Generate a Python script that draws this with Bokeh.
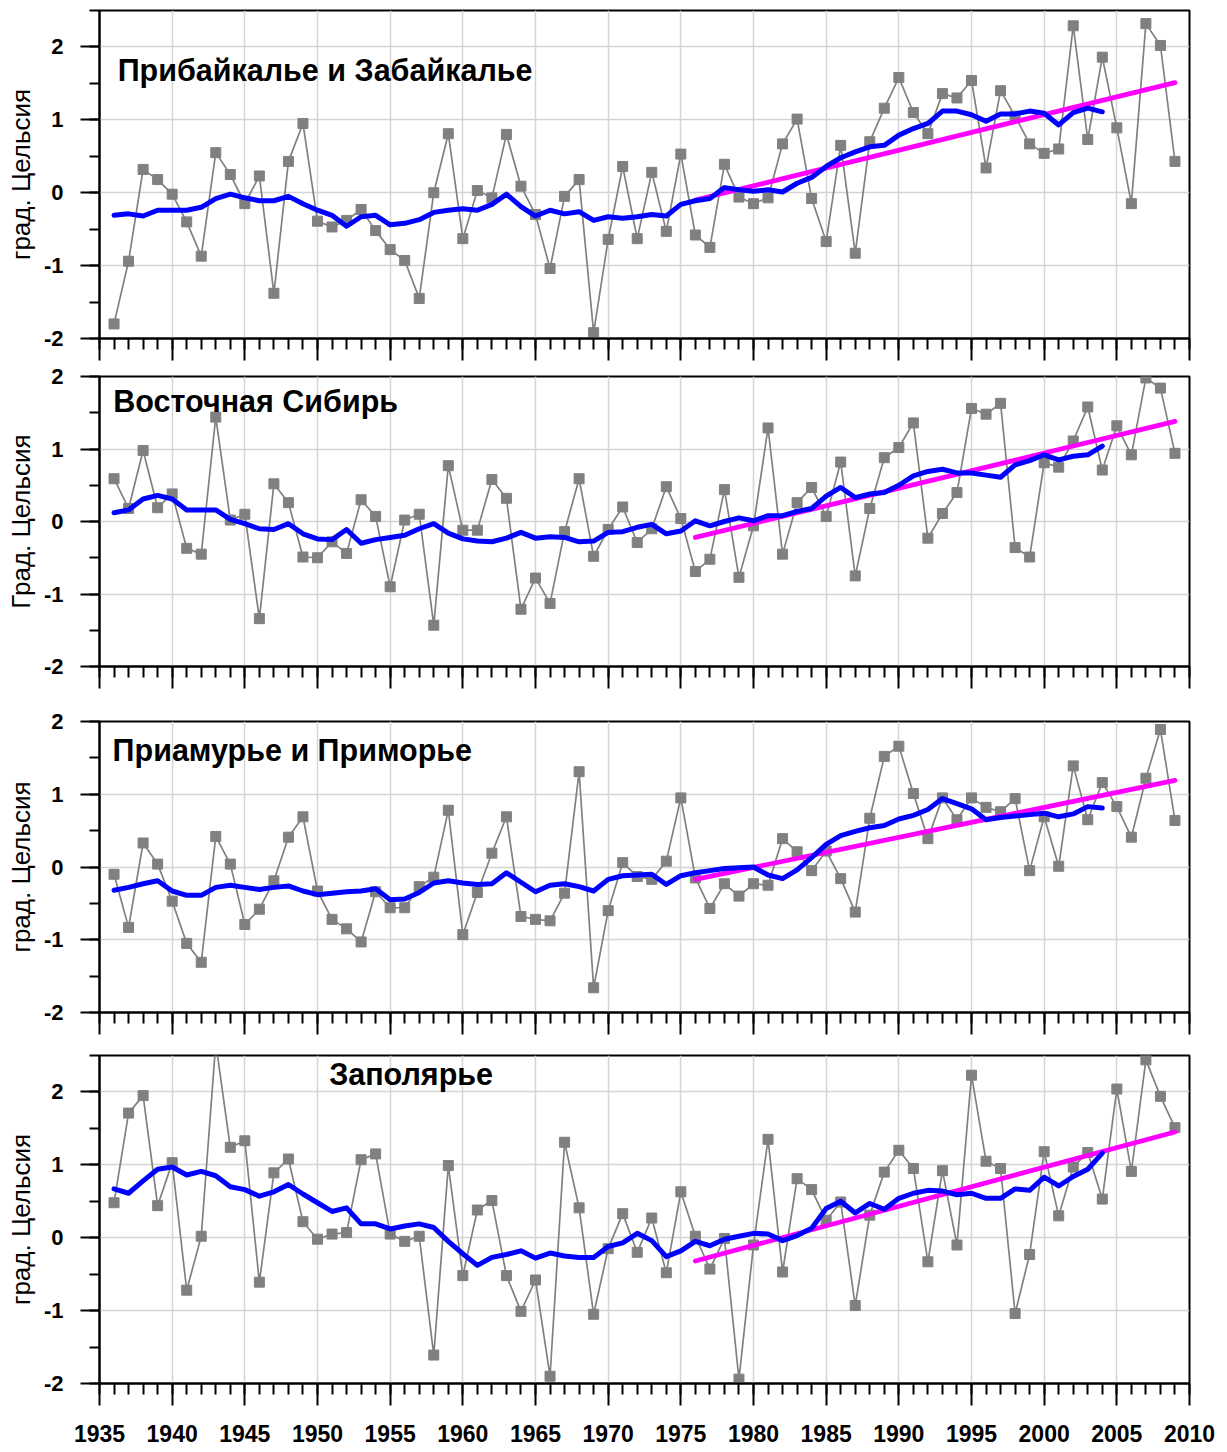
from bokeh.plotting import figure
from bokeh.layouts import column
from bokeh.models import Range1d, FixedTicker, Label
from bokeh.embed import file_html
from bokeh.resources import INLINE

years = list(range(1936, 2010))
ma_years = list(range(1936, 2005))
trend_years = [1976, 2009]
x_ticks = list(range(1935, 2011, 5))
x_minor = list(range(1935, 2011))
y_ticks = [-2, -1, 0, 1, 2]

titles = ["Прибайкалье и Забайкалье", "Восточная Сибирь", "Приамурье и Приморье", "Заполярье"]
ylabels = ["град. Цельсия", "Град. Цельсия", "град. Цельсия", "град. Цельсия"]

p1_anom = [-1.80, -0.94, 0.32, 0.18, -0.02, -0.40, -0.87, 0.55, 0.25, -0.15,
           0.23, -1.38, 0.43, 0.95, -0.39, -0.47, -0.38, -0.23, -0.52, -0.78,
           -0.93, -1.45, 0.00, 0.81, -0.63, 0.03, -0.07, 0.80, 0.09, -0.30,
           -1.04, -0.05, 0.18, -1.92, -0.64, 0.36, -0.63, 0.28, -0.53, 0.53,
           -0.58, -0.75, 0.39, -0.06, -0.15, -0.07, 0.67, 1.01, -0.08, -0.67,
           0.65, -0.83, 0.70, 1.16, 1.58, 1.10, 0.81, 1.36, 1.30, 1.54,
           0.34, 1.40, 1.05, 0.67, 0.54, 0.60, 2.29, 0.73, 1.86, 0.89,
           -0.15, 2.32, 2.02, 0.43]
p1_ma = [-0.31, -0.29, -0.32, -0.24, -0.24, -0.24, -0.20, -0.08, -0.02, -0.07,
         -0.11, -0.11, -0.05, -0.15, -0.24, -0.31, -0.46, -0.33, -0.31, -0.44,
         -0.42, -0.37, -0.27, -0.24, -0.22, -0.24, -0.16, -0.02, -0.19, -0.32,
         -0.24, -0.29, -0.26, -0.38, -0.33, -0.35, -0.33, -0.30, -0.32, -0.16,
         -0.11, -0.08, 0.07, 0.04, 0.02, 0.04, 0.01, 0.13, 0.21, 0.36,
         0.48, 0.56, 0.63, 0.65, 0.79, 0.88, 0.95, 1.12, 1.12, 1.07,
         0.98, 1.08, 1.08, 1.12, 1.09, 0.93, 1.10, 1.16, 1.11]
p1_trend = [-0.10, 1.51]

p2_anom = [0.59, 0.18, 0.98, 0.19, 0.38, -0.37, -0.45, 1.44, 0.02, 0.10,
           -1.34, 0.52, 0.26, -0.49, -0.50, -0.28, -0.44, 0.30, 0.07, -0.90,
           0.02, 0.10, -1.43, 0.77, -0.12, -0.12, 0.58, 0.32, -1.21, -0.78,
           -1.13, -0.14, 0.59, -0.48, -0.11, 0.20, -0.29, -0.10, 0.48, 0.04,
           -0.69, -0.52, 0.44, -0.77, -0.06, 1.29, -0.45, 0.26, 0.47, 0.07,
           0.82, -0.75, 0.18, 0.88, 1.02, 1.36, -0.23, 0.11, 0.40, 1.56,
           1.48, 1.63, -0.36, -0.49, 0.81, 0.75, 1.11, 1.58, 0.71, 1.32,
           0.92, 1.98, 1.84, 0.94]
p2_ma = [0.12, 0.16, 0.31, 0.36, 0.31, 0.16, 0.16, 0.16, 0.03, -0.03,
         -0.10, -0.11, -0.03, -0.17, -0.24, -0.25, -0.11, -0.30, -0.25, -0.22,
         -0.19, -0.10, -0.03, -0.16, -0.24, -0.27, -0.28, -0.23, -0.15, -0.23,
         -0.21, -0.22, -0.28, -0.27, -0.15, -0.14, -0.08, -0.04, -0.17, -0.13,
         0.01, -0.06, 0.00, 0.05, 0.01, 0.08, 0.08, 0.14, 0.18, 0.35,
         0.47, 0.33, 0.38, 0.40, 0.50, 0.63, 0.69, 0.72, 0.67, 0.67,
         0.64, 0.61, 0.78, 0.84, 0.92, 0.85, 0.90, 0.92, 1.04]
p2_trend = [-0.22, 1.38]

p3_anom = [-0.10, -0.83, 0.33, 0.04, -0.47, -1.05, -1.31, 0.42, 0.04, -0.79,
           -0.58, -0.19, 0.41, 0.69, -0.33, -0.72, -0.85, -1.03, -0.34, -0.56,
           -0.56, -0.27, -0.14, 0.78, -0.93, -0.35, 0.19, 0.69, -0.68, -0.72,
           -0.74, -0.36, 1.31, -1.66, -0.60, 0.06, -0.13, -0.17, 0.08, 0.95,
           -0.15, -0.57, -0.23, -0.40, -0.23, -0.25, 0.39, 0.21, -0.05, 0.22,
           -0.16, -0.62, 0.67, 1.52, 1.66, 1.01, 0.39, 0.95, 0.65, 0.95,
           0.82, 0.76, 0.94, -0.05, 0.69, 0.01, 1.39, 0.65, 1.16, 0.83,
           0.41, 1.22, 1.89, 0.64]
p3_ma = [-0.32, -0.28, -0.23, -0.19, -0.33, -0.39, -0.39, -0.28, -0.25, -0.28,
         -0.31, -0.28, -0.26, -0.33, -0.38, -0.36, -0.34, -0.33, -0.30, -0.45,
         -0.44, -0.35, -0.22, -0.19, -0.22, -0.24, -0.23, -0.08, -0.21, -0.34,
         -0.25, -0.23, -0.27, -0.33, -0.17, -0.12, -0.11, -0.10, -0.24, -0.12,
         -0.08, -0.05, -0.02, -0.01, 0.00, -0.11, -0.16, -0.04, 0.13, 0.31,
         0.43, 0.49, 0.54, 0.57, 0.66, 0.71, 0.79, 0.94, 0.87, 0.80,
         0.65, 0.68, 0.70, 0.72, 0.74, 0.69, 0.73, 0.83, 0.81]
p3_trend = [-0.17, 1.19]

p4_anom = [0.48, 1.71, 1.95, 0.44, 1.03, -0.72, 0.02, 2.67, 1.24, 1.33,
           -0.61, 0.89, 1.08, 0.22, -0.02, 0.05, 0.07, 1.07, 1.15, 0.05,
           -0.05, 0.02, -1.61, 0.99, -0.52, 0.38, 0.51, -0.52, -1.01, -0.58,
           -1.90, 1.31, 0.41, -1.05, -0.15, 0.33, -0.20, 0.27, -0.48, 0.63,
           0.02, -0.43, -0.01, -1.94, -0.10, 1.35, -0.47, 0.81, 0.66, 0.24,
           0.49, -0.93, 0.31, 0.90, 1.20, 0.95, -0.33, 0.92, -0.10, 2.23,
           1.05, 0.95, -1.04, -0.23, 1.18, 0.30, 0.97, 1.17, 0.53, 2.04,
           0.91, 2.44, 1.94, 1.51]
p4_ma = [0.67, 0.61, 0.78, 0.94, 0.97, 0.86, 0.91, 0.85, 0.70, 0.66,
         0.57, 0.63, 0.73, 0.60, 0.48, 0.36, 0.41, 0.19, 0.19, 0.12,
         0.16, 0.19, 0.14, -0.05, -0.22, -0.38, -0.27, -0.23, -0.18, -0.28,
         -0.21, -0.25, -0.27, -0.27, -0.12, -0.07, 0.06, -0.04, -0.26, -0.18,
         -0.05, -0.11, -0.02, 0.02, 0.06, 0.05, -0.04, 0.03, 0.13, 0.40,
         0.50, 0.34, 0.47, 0.39, 0.54, 0.61, 0.65, 0.64, 0.59, 0.61,
         0.54, 0.54, 0.67, 0.65, 0.83, 0.71, 0.84, 0.94, 1.16]
p4_trend = [-0.32, 1.45]

FONT = "Liberation Sans"


def make_panel(anom, ma, trend, title, ylabel, y_end, height, top, bottom,
               title_x, title_y, show_x_labels):
    p = figure(width=1227, height=height,
               x_range=Range1d(1935, 2010), y_range=Range1d(-2, y_end),
               output_backend="svg", toolbar_location=None,
               min_border_left=99, min_border_right=38,
               min_border_top=top, min_border_bottom=bottom)
    p.outline_line_color = "black"
    p.outline_line_width = 2
    p.outline_line_alpha = 1.0

    # grids
    p.xgrid.ticker = FixedTicker(ticks=x_ticks)
    p.ygrid.ticker = FixedTicker(ticks=y_ticks)
    for g in (p.xgrid, p.ygrid):
        g.grid_line_color = "#d4d4d4"
        g.grid_line_width = 1.5

    # x axis
    xa = p.xaxis[0]
    xa.ticker = FixedTicker(ticks=x_ticks, minor_ticks=x_minor)
    xa.axis_line_color = "black"
    xa.axis_line_width = 2
    xa.major_tick_line_color = "black"
    xa.major_tick_line_width = 2
    xa.minor_tick_line_color = "black"
    xa.minor_tick_line_width = 2
    xa.major_tick_out = 22
    xa.major_tick_in = 0
    xa.minor_tick_out = 11
    xa.minor_tick_in = 0
    if show_x_labels:
        xa.major_label_text_font = FONT
        xa.major_label_text_font_style = "bold"
        xa.major_label_text_font_size = "23px"
        xa.major_label_text_color = "black"
        xa.major_label_standoff = 19
    else:
        xa.major_label_text_color = None
        xa.major_label_text_font_size = "1px"
        xa.major_label_standoff = 0

    # y axis
    ya = p.yaxis[0]
    ya.ticker = FixedTicker(ticks=y_ticks,
                            minor_ticks=[v / 2 for v in range(-4, int(y_end * 2) + 1)])
    ya.axis_line_color = "black"
    ya.axis_line_width = 2
    ya.major_tick_line_color = "black"
    ya.major_tick_line_width = 2
    ya.minor_tick_line_color = "black"
    ya.minor_tick_line_width = 2
    ya.major_tick_out = 19
    ya.major_tick_in = 0
    ya.minor_tick_out = 10
    ya.minor_tick_in = 0
    ya.major_label_text_font = FONT
    ya.major_label_text_font_style = "bold"
    ya.major_label_text_font_size = "22px"
    ya.major_label_text_color = "black"
    ya.major_label_standoff = 17
    ya.major_label_overrides = {-2: "-2", -1: "-1", 0: "0", 1: "1", 2: "2"}
    ya.axis_label = ylabel
    ya.axis_label_text_font = FONT
    ya.axis_label_text_font_style = "normal"
    ya.axis_label_text_font_size = "26px"
    ya.axis_label_text_color = "black"
    ya.axis_label_standoff = 5

    # data
    p.line(years, anom, line_color="#808080", line_width=1.7)
    p.scatter(years, anom, marker="square", size=10,
              fill_color="#808080", line_color="#808080")
    p.line(trend_years, trend, line_color="#FF00FF", line_width=4.8,
           line_cap="round")
    p.line(ma_years, ma, line_color="#0000FF", line_width=5,
           line_cap="round", line_join="round")

    p.add_layout(Label(x=title_x, y=title_y, text=title,
                       text_font=FONT, text_font_style="bold",
                       text_font_size="30.5px", text_color="black",
                       text_baseline="middle", text_align="left"))
    return p


p1 = make_panel(p1_anom, p1_ma, p1_trend, titles[0], ylabels[0], 2.5,
                362, 10, 24, 1936.25, 1.68, False)
p2 = make_panel(p2_anom, p2_ma, p2_trend, titles[1], ylabels[1], 2.0,
                343, 14, 39, 1935.95, 1.66, False)
p3 = make_panel(p3_anom, p3_ma, p3_trend, titles[2], ylabels[2], 2.0,
                335, 16, 28, 1935.9, 1.61, False)
p4 = make_panel(p4_anom, p4_ma, p4_trend, titles[3], ylabels[3], 2.5,
                411, 15, 68, 1950.8, 2.24, True)

layout = column(p1, p2, p3, p4, spacing=0)

with open("out.html", "w") as f:
    f.write(file_html(layout, INLINE))
